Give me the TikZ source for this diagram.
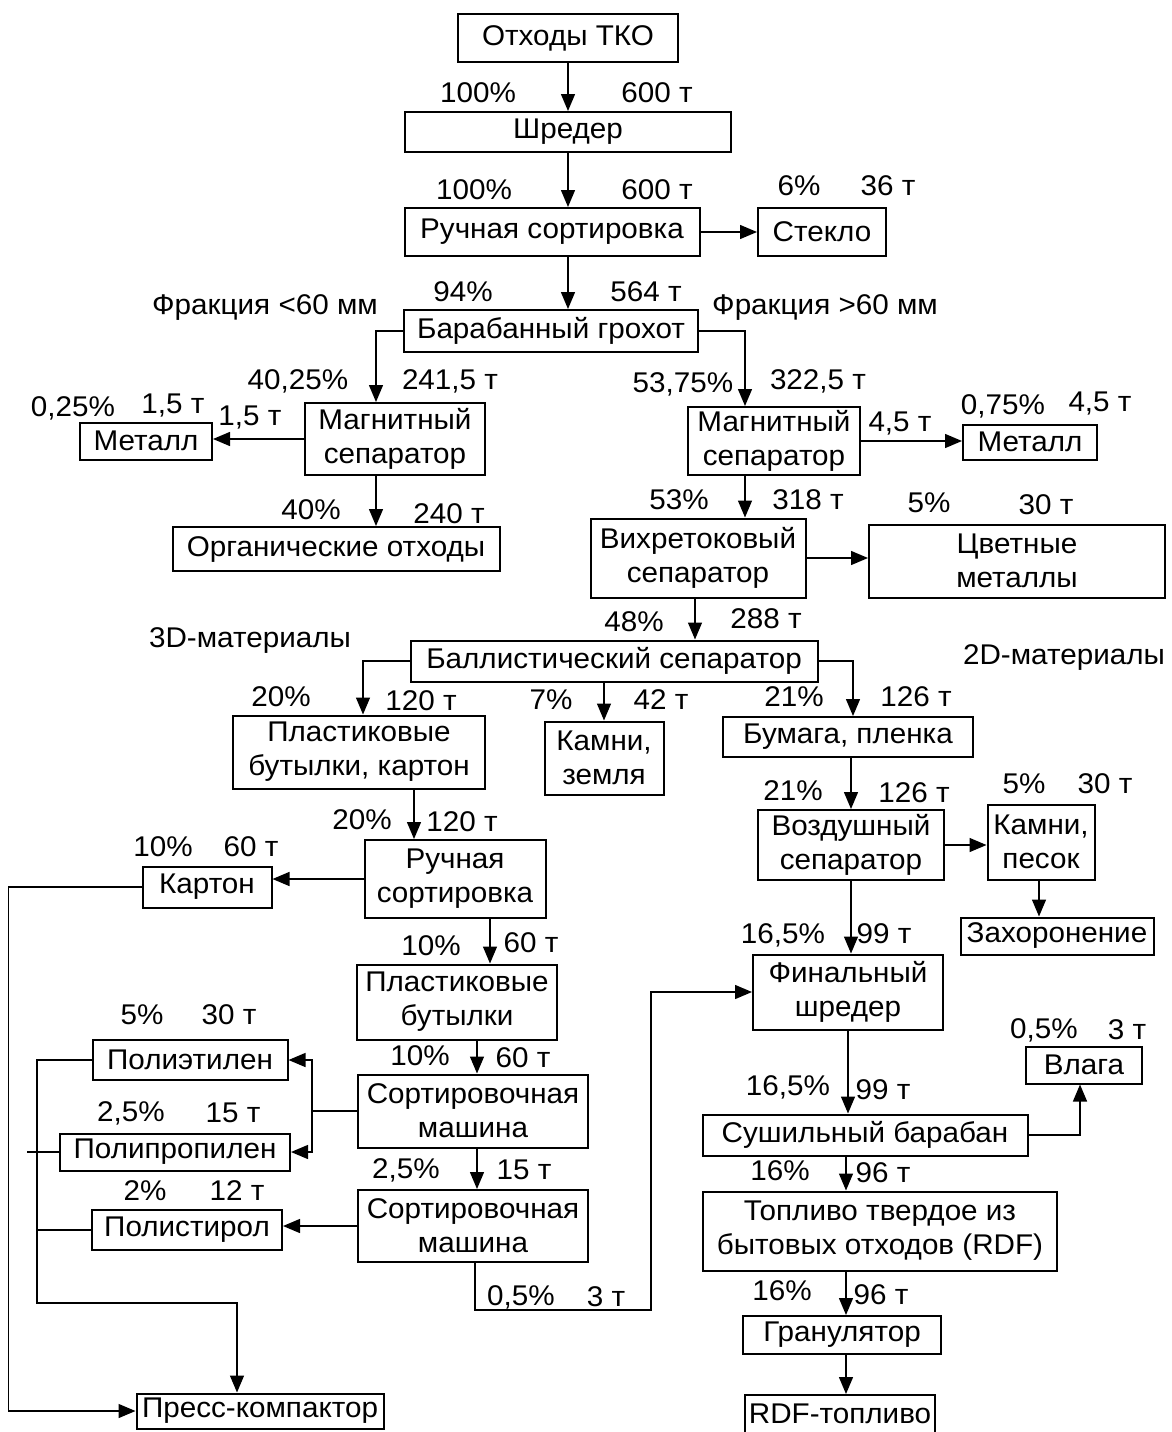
\documentclass[tikz,border=0pt]{standalone}
\usepackage{fontspec}
\setmainfont{Liberation Sans}[FakeStretch=1.04]
\usepackage{tikz}
\usetikzlibrary{arrows.meta}

\begin{document}
\begin{tikzpicture}[x=1pt, y=-1pt,
  box/.style={draw, line width=2pt, align=center, inner sep=0pt, font=\fontsize{28.5}{34}\selectfont},
  lbl/.style={inner sep=0pt, font=\fontsize{28.5}{34}\selectfont},
  arr/.style={line width=1.4pt, -{Triangle[length=17pt,width=14pt]}},
  wire/.style={line width=1.4pt}]
 \useasboundingbox (0,0) rectangle (1171,1432);
 % main line
 \node[box, minimum width=220pt, minimum height=48pt] (otxody) at (568,38) {Отходы ТКО};
 \node[box, minimum width=326pt, minimum height=40pt] (shreder) at (568,132) {Шредер};
 \node[box, minimum width=295pt, minimum height=48pt] (ruchn1) at (552,232) {Ручная сортировка};
 \node[box, minimum width=128pt, minimum height=48pt] (steklo) at (822,232) {Стекло};
 \node[box, minimum width=294pt, minimum height=42pt] (baraban) at (551,331) {Барабанный грохот};
 % magnetic separators
 \node[box, minimum width=180pt, minimum height=72pt] (magnL) at (395,439) {Магнитный\\сепаратор};
 \node[box, minimum width=132pt, minimum height=37pt] (metL) at (146,441) {Металл};
 \node[box, minimum width=327pt, minimum height=44pt] (organ) at (336,549) {Органические отходы};
 \node[box, minimum width=172pt, minimum height=68pt] (magnR) at (774,441) {Магнитный\\сепаратор};
 \node[box, minimum width=134pt, minimum height=35pt] (metR) at (1030,442) {Металл};
 \node[box, minimum width=215pt, minimum height=79pt] (vihr) at (698,558) {Вихретоковый\\сепаратор};
 \node[box, minimum width=296pt, minimum height=73pt] (cvet) at (1017,561) {Цветные\\металлы};
 \node[box, minimum width=407pt, minimum height=41pt] (ballist) at (614,661) {Баллистический сепаратор};
 % 3D / 2D branches
 \node[box, minimum width=252pt, minimum height=73pt] (plastK) at (359,752) {Пластиковые\\бутылки, картон};
 \node[box, minimum width=119pt, minimum height=73pt] (kamZ) at (604,758) {Камни,\\земля};
 \node[box, minimum width=250pt, minimum height=40pt] (bumaga) at (848,737) {Бумага, пленка};
 \node[box, minimum width=186pt, minimum height=70pt] (vozd) at (851,845) {Воздушный\\сепаратор};
 \node[box, minimum width=107pt, minimum height=75pt] (kamP) at (1041,842) {Камни,\\песок};
 \node[box, minimum width=193pt, minimum height=37pt] (zahor) at (1057,936) {Захоронение};
 \node[box, minimum width=181pt, minimum height=78pt] (ruchn2) at (455,879) {Ручная\\сортировка};
 \node[box, minimum width=129pt, minimum height=41pt] (karton) at (207,887) {Картон};
 \node[box, minimum width=200pt, minimum height=75pt] (plastB) at (457,1002) {Пластиковые\\бутылки};
 \node[box, minimum width=190pt, minimum height=75pt] (final) at (848,992) {Финальный\\шредер};
 \node[box, minimum width=195pt, minimum height=40pt] (polieth) at (190,1060) {Полиэтилен};
 \node[box, minimum width=116pt, minimum height=37pt] (vlaga) at (1084,1065) {Влага};
 \node[box, minimum width=230pt, minimum height=73pt] (sort1) at (473,1111) {Сортировочная\\машина};
 \node[box, minimum width=230pt, minimum height=37pt] (poliprop) at (175,1152) {Полипропилен};
 \node[box, minimum width=325pt, minimum height=41pt] (sush) at (865,1135) {Сушильный барабан};
 \node[box, minimum width=230pt, minimum height=72pt] (sort2) at (473,1226) {Сортировочная\\машина};
 \node[box, minimum width=190pt, minimum height=40pt] (polistir) at (187,1230) {Полистирол};
 \node[box, minimum width=354pt, minimum height=79pt] (toplivo) at (880,1231) {Топливо твердое из\\бытовых отходов (RDF)};
 \node[box, minimum width=198pt, minimum height=38pt] (granul) at (842,1335) {Гранулятор};
 \node[box, minimum width=247pt, minimum height=35pt] (press) at (260,1411) {Пресс-компактор};
 \node[box, minimum width=190pt, minimum height=38pt] (rdf) at (840,1414) {RDF-топливо};
 \coordinate (bend) at (651,1310);
 \coordinate (pbus) at (37,1303);

 % connectors
 \draw[arr] (otxody) -- (shreder);
 \draw[arr] (shreder.south) -- (shreder.south |- ruchn1.north);
 \draw[arr] (ruchn1.east) -- (ruchn1.east -| steklo.west);
 \draw[arr] (ruchn1.south -| shreder.south) -- (shreder.south |- baraban.north);
 \draw[arr] (baraban.west) -| ([xshift=-19pt]magnL.north);
 \draw[arr] (baraban.east) -| ([xshift=-29pt]magnR.north);
 \draw[arr] (magnL.west) -- (magnL.west -| metL.east);
 \draw[arr] ([xshift=-19pt]magnL.south) -- ([xshift=-19pt]magnL.south |- organ.north);
 \draw[arr] (magnR.east) -- (magnR.east -| metR.west);
 \draw[arr] ([xshift=-29pt]magnR.south) -- ([xshift=-29pt]magnR.south |- vihr.north);
 \draw[arr] (vihr.east) -- (vihr.east -| cvet.west);
 \draw[arr] ([xshift=-3pt]vihr.south) -- ([xshift=-3pt]vihr.south |- ballist.north);
 \draw[arr] (ballist.west) -| ([xshift=4pt]plastK.north);
 \draw[arr] (kamZ.north |- ballist.south) -- (kamZ.north);
 \draw[arr] (ballist.east) -| ([xshift=5pt]bumaga.north);
 \draw[arr] ([xshift=55pt]plastK.south) -- ([xshift=55pt]plastK.south |- ruchn2.north);
 \draw[arr] (vozd.north |- bumaga.south) -- (vozd.north);
 \draw[arr] (vozd.east) -- (vozd.east -| kamP.west);
 \draw[arr] ([xshift=-2pt]kamP.south) -- ([xshift=-2pt]kamP.south |- zahor.north);
 \draw[arr] (vozd.south) -- (vozd.south |- final.north);
 \draw[arr] (ruchn2.west) -- (ruchn2.west -| karton.east);
 \draw[arr] ([xshift=35pt]ruchn2.south) -- ([xshift=35pt]ruchn2.south |- plastB.north);
 \draw[arr] ([xshift=20pt]plastB.south) -- ([xshift=20pt]plastB.south |- sort1.north);
 \draw[arr] (sort1.west) -- ++(-45,0) |- (polieth.east);
 \draw[arr] (sort1.west) -- ++(-45,0) |- (poliprop.east);
 \draw[arr] ([xshift=4pt]sort1.south) -- ([xshift=4pt]sort1.south |- sort2.north);
 \draw[arr] (sort2.west) -- (sort2.west -| polistir.east);
 \draw[arr] ([xshift=2pt]sort2.south) |- (bend) |- (final.west);
 \draw[arr] (karton.west) -- ++(-133,0) |- (press.west);
 \draw[arr] (polieth.west) -| (pbus) -| ([xshift=-23pt]press.north);
 \draw[wire] (poliprop.west) -- ([xshift=-10pt]poliprop.west -| pbus);
 \draw[wire] (polistir.west) -- (polistir.west -| pbus);
 \draw[arr] (final.south) -- (final.south |- sush.north);
 \draw[arr] (sush.east) -| ([xshift=-4pt]vlaga.south);
 \draw[arr] ([xshift=-19pt]sush.south) -- ([xshift=-19pt]sush.south |- toplivo.north);
 \draw[arr] ([xshift=-34pt]toplivo.south) -- ([xshift=-34pt]toplivo.south |- granul.north);
 \draw[arr] ([xshift=4pt]granul.south) -- ([xshift=4pt]granul.south |- rdf.north);

 % flow labels
 \node[lbl] (l1a) at (478,93) {100\%};    \node[lbl] (l1b) at (657,93) {600 т};
 \node[lbl] (l2a) at (474,190) {100\%};   \node[lbl] (l2b) at (657,190) {600 т};
 \node[lbl] (l3a) at (799,186) {6\%};     \node[lbl] (l3b) at (888,186) {36 т};
 \node[lbl] (l4a) at (463,292) {94\%};    \node[lbl] (l4b) at (646,292) {564 т};
 \node[lbl] (frL) at (265,308) {Фракция <60 мм};
 \node[lbl] (frR) at (825,308) {Фракция >60 мм};
 \node[lbl] (l5a) at (298,381) {40,25\%};  \node[lbl] (l5b) at (450,381) {241,5 т};
 \node[lbl] (l6a) at (683,384) {53,75\%};  \node[lbl] (l6b) at (818,381) {322,5 т};
 \node[lbl] (l7a) at (73,408) {0,25\%};    \node[lbl] (l7b) at (173,406) {1,5 т};
 \node[lbl] (l7c) at (250,418) {1,5 т};
 \node[lbl] (l8a) at (1003,406) {0,75\%};  \node[lbl] (l8b) at (1100,404) {4,5 т};
 \node[lbl] (l8c) at (900,424) {4,5 т};
 \node[lbl] (l9a) at (311,510) {40\%};     \node[lbl] (l9b) at (449,514) {240 т};
 \node[lbl] (l10a) at (679,500) {53\%};    \node[lbl] (l10b) at (808,500) {318 т};
 \node[lbl] (l11a) at (929,503) {5\%};     \node[lbl] (l11b) at (1046,505) {30 т};
 \node[lbl] (l12a) at (634,622) {48\%};    \node[lbl] (l12b) at (766,619) {288 т};
 \node[lbl] (m3d) at (250,640) {3D-материалы};
 \node[lbl] (m2d) at (1064,657) {2D-материалы};
 \node[lbl] (l13a) at (281,697) {20\%};    \node[lbl] (l13b) at (421,701) {120 т};
 \node[lbl] (l14a) at (551,700) {7\%};     \node[lbl] (l14b) at (661,700) {42 т};
 \node[lbl] (l15a) at (794,697) {21\%};    \node[lbl] (l15b) at (916,697) {126 т};
 \node[lbl] (l16a) at (793,791) {21\%};    \node[lbl] (l16b) at (914,793) {126 т};
 \node[lbl] (l17a) at (1024,784) {5\%};    \node[lbl] (l17b) at (1105,784) {30 т};
 \node[lbl] (l18a) at (362,820) {20\%};    \node[lbl] (l18b) at (462,822) {120 т};
 \node[lbl] (l19a) at (163,847) {10\%};    \node[lbl] (l19b) at (251,847) {60 т};
 \node[lbl] (l20a) at (431,946) {10\%};    \node[lbl] (l20b) at (531,943) {60 т};
 \node[lbl] (l21a) at (783,935) {16,5\%};  \node[lbl] (l21b) at (884,934) {99 т};
 \node[lbl] (l22a) at (142,1015) {5\%};    \node[lbl] (l22b) at (229,1015) {30 т};
 \node[lbl] (l23a) at (1044,1030) {0,5\%}; \node[lbl] (l23b) at (1127,1030) {3 т};
 \node[lbl] (l24a) at (420,1056) {10\%};   \node[lbl] (l24b) at (523,1058) {60 т};
 \node[lbl] (l25a) at (788,1087) {16,5\%}; \node[lbl] (l25b) at (883,1090) {99 т};
 \node[lbl] (l26a) at (131,1113) {2,5\%};  \node[lbl] (l26b) at (233,1113) {15 т};
 \node[lbl] (l27a) at (406,1170) {2,5\%};  \node[lbl] (l27b) at (524,1170) {15 т};
 \node[lbl] (l28a) at (780,1171) {16\%};   \node[lbl] (l28b) at (883,1173) {96 т};
 \node[lbl] (l29a) at (145,1191) {2\%};    \node[lbl] (l29b) at (237,1191) {12 т};
 \node[lbl] (l30a) at (521,1297) {0,5\%};  \node[lbl] (l30b) at (606,1297) {3 т};
 \node[lbl] (l31a) at (782,1291) {16\%};   \node[lbl] (l31b) at (881,1295) {96 т};
\end{tikzpicture}
\end{document}
